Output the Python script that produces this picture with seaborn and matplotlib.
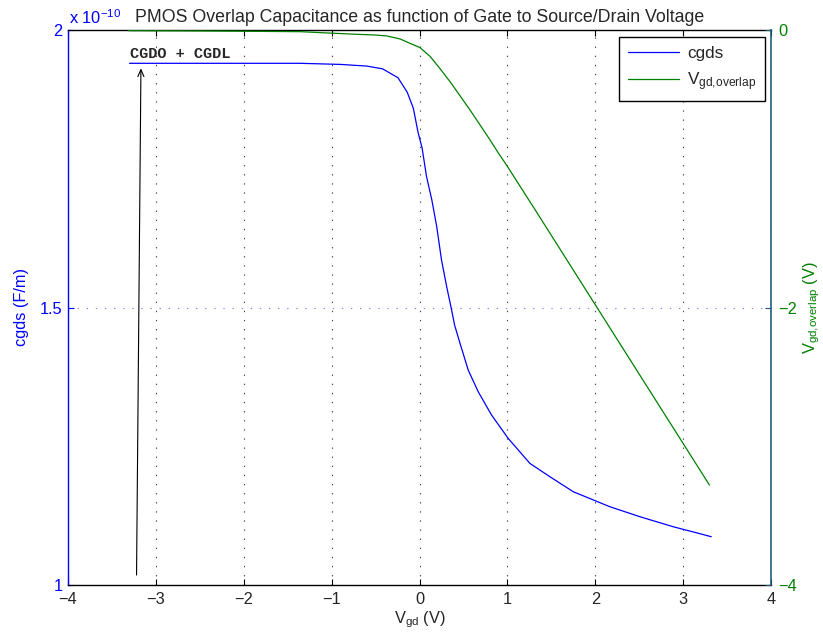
import matplotlib
matplotlib.use("Agg")
import matplotlib.pyplot as plt
import seaborn as sns
import numpy as np
import pandas as pd

# ---- data ----
vgd_cgds = [-3.30, -2.5, -1.8, -1.36, -0.90, -0.60, -0.42, -0.245, -0.14, -0.07, -0.017,
            0.03, 0.08, 0.14, 0.196, 0.25, 0.31, 0.366, 0.40, 0.461, 0.555, 0.669, 0.821,
            1.01, 1.257, 1.485, 1.75, 2.167, 2.509, 2.887, 3.154, 3.32]
cgds_e10 = [1.940, 1.940, 1.940, 1.940, 1.938, 1.935, 1.930, 1.914, 1.888, 1.859, 1.816,
            1.787, 1.736, 1.694, 1.646, 1.586, 1.537, 1.495, 1.468, 1.4355, 1.387, 1.348, 1.306,
            1.264, 1.219, 1.195, 1.168, 1.141, 1.123, 1.105, 1.094, 1.087]
vgd_ov = [-3.31, -2.5, -1.8, -1.36, -0.79, -0.51, -0.37, -0.22, -0.108, 0.006, 0.12, 0.23,
          0.347, 0.46, 0.575, 0.69, 0.80, 0.90, 0.99, 1.33, 1.83, 2.02, 2.36, 2.83, 3.00, 3.30]
v_overlap = [-0.005, -0.007, -0.01, -0.012, -0.029, -0.036, -0.043, -0.065, -0.096, -0.127,
             -0.19, -0.276, -0.372, -0.473, -0.577, -0.685, -0.79, -0.889, -0.973, -1.31,
             -1.81, -2.0, -2.34, -2.81, -2.98, -3.28]

x_ticks = [-4, -3, -2, -1, 0, 1, 2, 3, 4]
left_ticks = [1, 1.5, 2]
right_ticks = [-4, -2, 0]

sns.set_style("white")
plt.rcParams['font.family'] = ['Liberation Sans', 'DejaVu Sans']
plt.rcParams['mathtext.fontset'] = 'custom'
plt.rcParams['mathtext.rm'] = 'Liberation Sans'
plt.rcParams['mathtext.it'] = 'Liberation Sans:italic'
plt.rcParams['mathtext.bf'] = 'Liberation Sans:bold'

FS = 11.8
blue = '#0000ff'
green = '#008000'
teal = '#1f5c7a'

fig = plt.figure(figsize=(8.23, 6.41), dpi=100)
ax1 = fig.add_axes([68/823, 56/641, 703/823, 555/641])
ax2 = ax1.twinx()

df1 = pd.DataFrame({'x': vgd_cgds, 'y': cgds_e10})
df2 = pd.DataFrame({'x': vgd_ov, 'y': v_overlap})
sns.lineplot(data=df1, x='x', y='y', ax=ax1, color=blue, lw=0.9, label='cgds', legend=False)
sns.lineplot(data=df2, x='x', y='y', ax=ax2, color=green, lw=0.9,
             label=r'V$_{\mathrm{gd,\!overlap}}$', legend=False)

ax1.set_xlim(-4, 4)
ax1.set_ylim(1, 2)
ax2.set_ylim(-4, 0)
ax1.set_xticks(x_ticks)
ax1.set_xticklabels([f"{t}".replace('-', '\u2212') for t in x_ticks])
ax1.set_yticks(left_ticks)
ax1.set_yticklabels(['1', '1.5', '2'])
ax2.set_yticks(right_ticks)
ax2.set_yticklabels(['\u22124', '\u22122', '0'])

# grid
ax1.xaxis.grid(True, linestyle=(0, (1.2, 7)), color='#444444', lw=0.8)
ax1.yaxis.grid(True, linestyle=(0, (1.2, 7)), color='#8080ff', lw=0.8)
ax1.set_axisbelow(True)

# spines
for s in ['top', 'bottom']:
    ax1.spines[s].set_color('black')
    ax1.spines[s].set_linewidth(1.0)
    ax2.spines[s].set_visible(False)
ax1.spines['left'].set_color(blue)
ax1.spines['left'].set_linewidth(1.0)
ax1.spines['right'].set_visible(False)
ax2.spines['left'].set_visible(False)
ax2.spines['right'].set_color(teal)
ax2.spines['right'].set_linewidth(1.2)

ax1.tick_params(axis='x', direction='in', top=True, bottom=True, length=4, color='black',
                labelsize=FS, pad=5)
ax1.tick_params(axis='y', direction='in', left=True, right=False, length=4, color=blue,
                labelcolor=blue, labelsize=FS, pad=4)
ax2.tick_params(axis='y', direction='in', right=True, length=4, color=teal,
                labelcolor=green, labelsize=FS, pad=5)

ax1.set_xlabel(r'V$_{\mathrm{gd}}$ (V)', fontsize=FS, labelpad=2)
ax1.set_ylabel('cgds (F/m)', fontsize=FS, color=blue, labelpad=8)
ax2.set_ylabel(r'V$_{\mathrm{gd,\!overlap}}$ (V)', fontsize=FS, color=green, labelpad=3)

ax1.set_title('PMOS Overlap Capacitance as function of Gate to Source/Drain Voltage',
              fontsize=12.8, pad=6)
ax1.text(0.002, 1.006, r'x 10$^{-10}$', transform=ax1.transAxes, color=blue,
         fontsize=FS, ha='left', va='bottom')

# annotation
ax1.annotate('', xy=(-3.17, 1.931), xytext=(-3.22, 1.018),
             arrowprops=dict(arrowstyle='->,head_length=0.5,head_width=0.22',
                             color='black', lw=0.8, shrinkA=0, shrinkB=0))
ax1.text(-3.29, 1.949, 'CGDO + CGDL', family='Liberation Mono', weight='bold',
         fontsize=11, va='baseline', ha='left')

# legend
h1, l1 = ax1.get_legend_handles_labels()
h2, l2 = ax2.get_legend_handles_labels()
leg = ax2.legend(h1 + h2, l1 + l2, loc='upper right', bbox_to_anchor=(0.992, 0.987),
                 borderaxespad=0, fancybox=False, framealpha=1, edgecolor='black',
                 fontsize=12.3, handlelength=3.0, handletextpad=0.5, borderpad=0.5,
                 labelspacing=0.55)
leg.get_frame().set_linewidth(1.0)

fig.savefig('out.png', dpi=100)
